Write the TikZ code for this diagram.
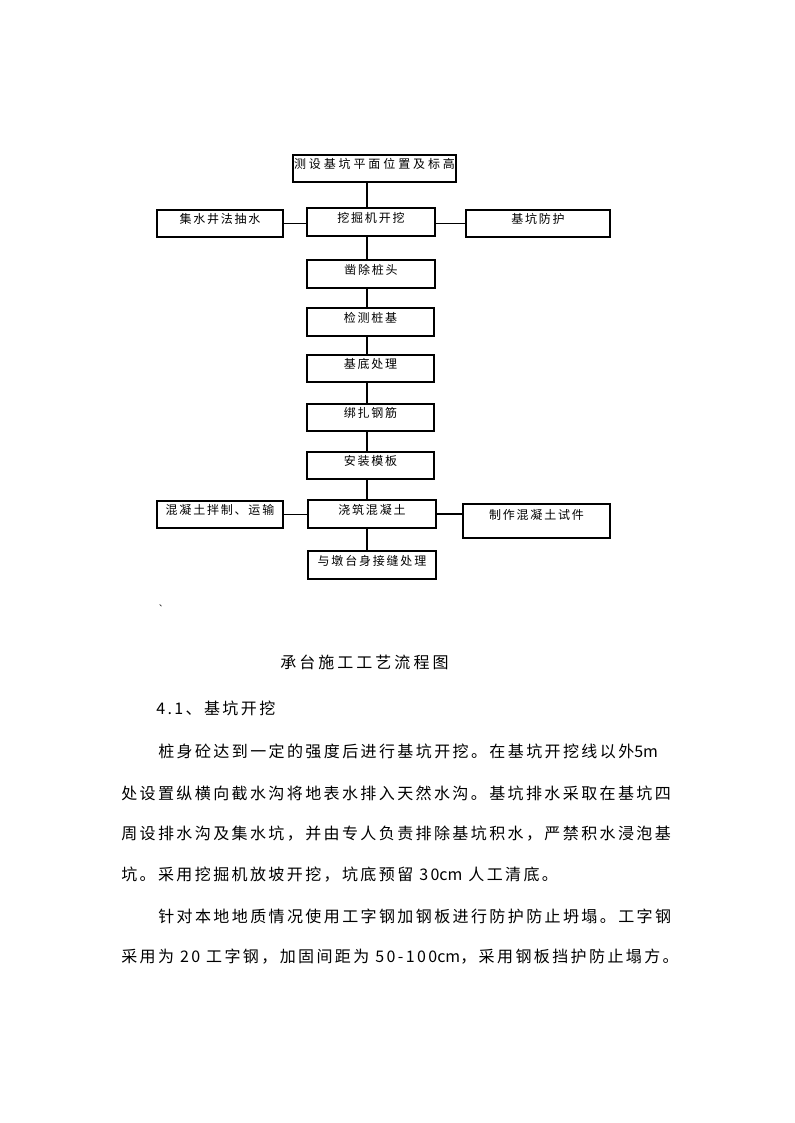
\documentclass[tikz,border=0pt]{standalone}
\usepackage{fontspec}
\newfontfamily\cjkbox[LetterSpace=15]{Noto Sans CJK SC}
\newfontfamily\cjkboxw[LetterSpace=24]{Noto Sans CJK SC}
\newfontfamily\cjkpara[LetterSpace=15]{Noto Sans CJK SC}
\newfontfamily\cjkttl[LetterSpace=19]{Noto Sans CJK SC}
\newfontfamily\cjk{Noto Sans CJK SC}
\newcommand\boxfont{\cjkbox\fontsize{9bp}{9bp}\selectfont}
\newcommand\boxfontw{\cjkboxw\fontsize{9bp}{9bp}\selectfont}
\newcommand\parafont{\cjkpara\fontsize{12bp}{12bp}\selectfont}
\newcommand\ttlfont{\cjkttl\fontsize{12bp}{12bp}\selectfont}
\newcommand\markfont{\cjk\fontsize{6bp}{6bp}\selectfont}
\newcommand\latn[1]{{\cjk\fontsize{12bp}{12bp}\selectfont #1}}
\usetikzlibrary{fit}
\begin{document}
\begin{tikzpicture}[x=0.75bp,y=-0.75bp,
  bx/.style={draw, line width=0.8bp, inner sep=0pt, fit={#1}, font=\boxfont},
  conn/.style={draw, line width=0.8bp},
  para/.style={anchor=west, inner sep=0pt, font=\parafont},
  ttl/.style={anchor=west, inner sep=0pt, font=\ttlfont}
]
\fill[white] (0,0) rectangle (794,1123);
\useasboundingbox (0,0) rectangle (794,1123);

% boxes
\node[bx={(293,155)(456,182)}, font=\boxfontw] (survey) {\raisebox{-1bp}{测设基坑平面位置及标高}};
\node[bx={(157,210)(283,237)}] (jishui) {\raisebox{-1.5bp}{集水井法抽水}};
\node[bx={(307,208)(435,236)}] (exc) {\raisebox{-1bp}{挖掘机开挖}};
\node[bx={(466,210)(610,237)}] (fanghu) {\raisebox{-1.5bp}{基坑防护}};
\node[bx={(307,260)(435,288)}] (zaochu) {\raisebox{-1bp}{凿除桩头}};
\node[bx={(307,308)(434,336)}] (jiance) {\raisebox{-1bp}{检测桩基}};
\node[bx={(307,355)(434,382)}] (jidi) {\raisebox{-1bp}{基底处理}};
\node[bx={(307,404)(434,431)}] (bangza) {\raisebox{-1bp}{绑扎钢筋}};
\node[bx={(307,452)(434,479)}] (anzhuang) {\raisebox{-1bp}{安装模板}};
\node[bx={(308,500)(436,528)}] (jiaozhu) {\raisebox{-1bp}{浇筑混凝土}};
\node[bx={(157,501)(283,528)}] (banzhi) {\raisebox{-1bp}{混凝土拌制、运输}};
\node[bx={(463,504)(610,538)}] (zhizuo) {\raisebox{1bp}{制作混凝土试件}};
\node[bx={(308,551)(436,579)}] (yudun) {\raisebox{-1bp}{与墩台身接缝处理}};

% connectors
\coordinate (sp) at (367,0);
\draw[conn] (survey.south -| sp) -- (exc.north -| sp);
\draw[conn] (exc.south -| sp) -- (zaochu.north -| sp);
\draw[conn] (zaochu.south -| sp) -- (jiance.north -| sp);
\draw[conn] (jiance.south -| sp) -- (jidi.north -| sp);
\draw[conn] (jidi.south -| sp) -- (bangza.north -| sp);
\draw[conn] (bangza.south -| sp) -- (anzhuang.north -| sp);
\draw[conn] (anzhuang.south -| sp) -- (jiaozhu.north -| sp);
\draw[conn] (jiaozhu.south -| sp) -- (yudun.north -| sp);
\draw[conn] (jishui.east) -- (jishui.east -| exc.west);
\draw[conn] (fanghu.west -| exc.east) -- (fanghu.west);
\draw[conn] (banzhi.east) -- (banzhi.east -| jiaozhu.west);
\draw[conn] (jiaozhu.east) -- (jiaozhu.east -| zhizuo.west);

% stray mark
\node[inner sep=0pt, font=\markfont] (mark) at (163,606) {、};

% title and text
\node[ttl] (title) at (280,662) {承台施工工艺流程图};
\node[para] (h41) at (156,708) {4.1、基坑开挖};
\node[para] (p1) at (158,751) {桩身砼达到一定的强度后进行基坑开挖。在基坑开挖线以外\latn{5m}};
\node[para] (p2) at (121,793) {处设置纵横向截水沟将地表水排入天然水沟。基坑排水采取在基坑四};
\node[para] (p3) at (121,834) {周设排水沟及集水坑，并由专人负责排除基坑积水，严禁积水浸泡基};
\node[para] (p4) at (121,875) {坑。采用挖掘机放坡开挖，坑底预留 30\latn{cm} 人工清底。};
\node[para] (p5) at (158,916) {针对本地地质情况使用工字钢加钢板进行防护防止坍塌。工字钢};
\node[para] (p6) at (121,957) {采用为 20 工字钢，加固间距为 50-100\latn{cm}，采用钢板挡护防止塌方。};
\end{tikzpicture}
\end{document}
